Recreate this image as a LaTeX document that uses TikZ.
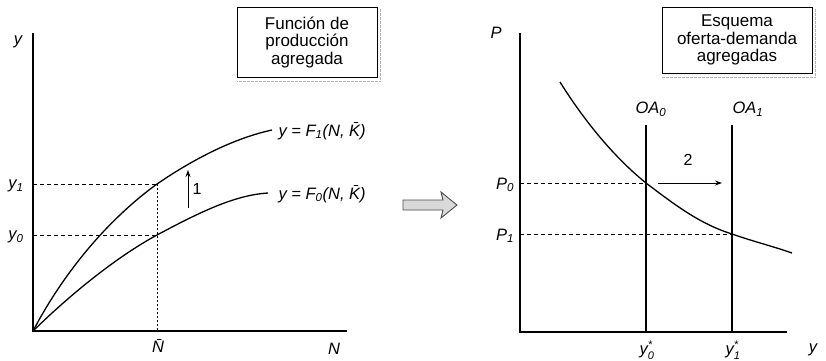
\documentclass[tikz,border=0pt]{standalone}
\usepackage{fontspec}
\setmainfont{Liberation Sans}
\usetikzlibrary{arrows.meta}
\begin{document}
\begin{tikzpicture}[x=1pt,y=-1pt,line width=1.1pt,
  lbl/.style={font=\fontsize{16.5}{18}\selectfont\itshape, inner sep=1pt},
  boxnode/.style={draw, line width=1pt, align=center, font=\fontsize{17}{17.5}\selectfont, inner sep=2pt},
  shadowline/.style={draw=gray!60, line width=1pt, dash pattern=on 3pt off 1pt},
  guide/.style={line width=0.9pt, dash pattern=on 4pt off 3pt},
  dotguide/.style={line width=0.9pt, dash pattern=on 2pt off 2pt},
  curve/.style={line width=1.3pt},
  shiftarrow/.style={line width=1pt, -{Stealth[length=7pt,width=5pt]}}]
\useasboundingbox (0,0) rectangle (826,360);
% ---------- left panel ----------
\coordinate (O1) at (33,331);
\coordinate (Ytop) at (33,33);
\coordinate (Xend) at (347,331);
\draw (Ytop) -- (O1) -- (Xend);
\node[lbl] (ylab) at (18,42) {y};
\node[lbl] (Nlab) at (334,349) {N};
\coordinate (A1) at (157,184);
\coordinate (A0) at (157,235);
\coordinate (Nb) at (157,331);
\coordinate (Y1) at (33,184);
\coordinate (Y0) at (33,235);
\draw[guide] (Y1) -- (A1);
\draw[guide] (Y0) -- (A0);
\draw[dotguide] (A1) -- (Nb);
\node[lbl] (y1lab) at (16,186) {y\textsubscript{1}};
\node[lbl] (y0lab) at (16,237) {y\textsubscript{0}};
\node[lbl] (Nbar) at (158,346) {\=N};
\draw[curve] (O1) .. controls (65,270) and (110,218) .. (A1) .. controls (195,158) and (235,138) .. (272,130);
\draw[curve] (O1) .. controls (75,290) and (120,255) .. (A0) .. controls (200,212) and (235,195) .. (268,193);
\node[lbl, anchor=west] (F1lab) at (277,131) {y = F\textsubscript{1}(N, \={K})};
\node[lbl, anchor=west] (F0lab) at (277,194) {y = F\textsubscript{0}(N, \={K})};
\coordinate (s1a) at (188,208);
\coordinate (s1b) at (188,170);
\draw[shiftarrow] (s1a) -- (s1b);
\node[font=\fontsize{16}{18}\selectfont, inner sep=1pt] (one) at (197,189) {1};
\node[boxnode, minimum width=140pt, minimum height=70pt] (box1) at (307,42) {Función de\\producción\\agregada};
\draw[shadowline] ([xshift=3pt,yshift=-2pt]box1.north east) -- ([xshift=3pt,yshift=-4pt]box1.south east) -- ([yshift=-4pt]box1.south west);
% ---------- transition arrow ----------
\filldraw[draw=black!70, fill=gray!30, line width=0.9pt]
  (403,200) -- (443,200) -- (441,192) -- (457,205) -- (441,218) -- (443,210) -- (403,210) -- cycle;
% ---------- right panel ----------
\coordinate (O2) at (520,332);
\coordinate (Ptop) at (520,33);
\coordinate (X2end) at (787,332);
\draw (Ptop) -- (O2) -- (X2end);
\node[lbl] (Plab) at (496,33) {P};
\node[lbl] (yrlab) at (813,350) {y};
\coordinate (OA0t) at (646,125);
\coordinate (OA0b) at (646,332);
\coordinate (OA1t) at (732,125);
\coordinate (OA1b) at (732,332);
\draw (OA0t) -- (OA0b);
\draw (OA1t) -- (OA1b);
\node[lbl] (OA0lab) at (651,109) {OA\textsubscript{0}};
\node[lbl] (OA1lab) at (748,109) {OA\textsubscript{1}};
\coordinate (E0) at (646,183);
\coordinate (E1) at (732,234);
\coordinate (P0) at (520,183);
\coordinate (P1) at (520,234);
\draw[guide] (P0) -- (E0);
\draw[guide] (P1) -- (E1);
\node[lbl] (P0lab) at (505,185) {P\textsubscript{0}};
\node[lbl] (P1lab) at (505,236) {P\textsubscript{1}};
\draw[curve] (560,82) .. controls (585,122) and (615,158) .. (E0) .. controls (675,205) and (700,224) .. (E1) .. controls (755,242) and (772,246) .. (792,253);
\coordinate (s2a) at (658,183);
\coordinate (s2b) at (722,183);
\draw[shiftarrow] (s2a) -- (s2b);
\node[font=\fontsize{16}{18}\selectfont, inner sep=1pt] (two) at (688,160) {2};
\node[lbl] (y0s) at (647,350) {y$^{\mbox{\fontsize{11}{12}\selectfont *}}_{\mbox{\fontsize{11}{12}\selectfont\itshape 0}}$};
\node[lbl] (y1s) at (733,350) {y$^{\mbox{\fontsize{11}{12}\selectfont *}}_{\mbox{\fontsize{11}{12}\selectfont\itshape 1}}$};
\node[boxnode, minimum width=150pt, minimum height=66pt] (box2) at (737,40) {Esquema\\oferta-demanda\\agregadas};
\draw[shadowline] ([xshift=3pt,yshift=-2pt]box2.north east) -- ([xshift=3pt,yshift=-4pt]box2.south east) -- ([yshift=-4pt]box2.south west);
\end{tikzpicture}
\end{document}
